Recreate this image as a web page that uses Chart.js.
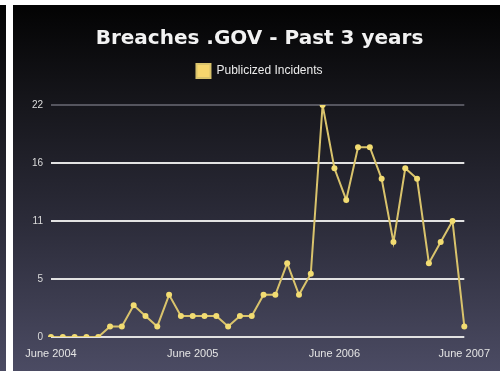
<!DOCTYPE html>
<html>
<head>
<meta charset="utf-8">
<script src="https://cdn.jsdelivr.net/npm/chart.js@4"></script>
<style>
  html, body { margin: 0; padding: 0; background: #fff; }
  body { width: 500px; height: 371px; position: relative; overflow: hidden; }
  .strip, .panel {
    position: absolute;
    top: 5px;
    bottom: 0;
    background: linear-gradient(to bottom, #030303 0%, #15151a 25%, #2c2c3a 60%, #4b4b63 100%);
  }
  .strip { left: 0; width: 6px; }
  .panel { left: 13px; right: 0; }
  #grafico { display: block; }
</style>
</head>
<body>
<div class="strip"></div>
<div class="panel">
  <canvas id="grafico" width="487" height="366"></canvas>
</div>
<script>
const ctx = document.getElementById('grafico').getContext('2d');

// Eixo X: um ponto por mês, rótulo só a cada ano
const meses = [
  'June 2004', '', '', '', '', '', '', '', '', '', '', '',
  'June 2005', '', '', '', '', '', '', '', '', '', '', '',
  'June 2006', '', '', '', '', '', '', '', '', '', '', 'June 2007'
]

// Incidentes publicados por mês
const incidentes = [
  0, 0, 0, 0, 0, 1, 1, 3, 2, 1, 4, 2,
  2, 2, 2, 1, 2, 2, 4, 4, 7, 4, 6, 22,
  16, 13, 18, 18, 15, 9, 16, 15, 7, 9, 11, 1
]

const serie = 'Publicized Incidents'
const titulo = 'Breaches .GOV - Past 3 years'

// Eixo Y: 0 a 22 em passos de 5.5 (rótulos truncados)
const yMax = 22
const yPasso = 5.5

// espaço extra entre a legenda e a área do gráfico
const margemLegenda = {
  id: 'margemLegenda',
  beforeInit(chart) {
    const fitOriginal = chart.legend.fit
    chart.legend.fit = function () {
      fitOriginal.bind(chart.legend)()
      this.height += 17
    }
  }
}

const config = {
  type: 'line',
  data: {
    labels: meses,
    datasets: [{
      label: serie,
      data: incidentes,
      borderColor: '#d9c36c',
      backgroundColor: '#f6d66e',
      borderWidth: 2,
      pointRadius: 3,
      pointBackgroundColor: '#f2dc72',
      pointBorderWidth: 0,
      tension: 0
    }]
  },
  options: {
    responsive: false,
    animation: false,
    layout: {
      padding: { left: 6, right: 0, top: 0, bottom: 0 }
    },
    plugins: {
      title: {
        display: true,
        text: titulo,
        color: '#f2f2f2',
        font: { family: 'DejaVu Sans', size: 20, weight: 'bold' },
        padding: { top: 22, bottom: 3 }
      },
      legend: {
        labels: {
          color: '#ececec',
          font: { family: 'Liberation Sans', size: 12 },
          boxWidth: 14,
          boxHeight: 14,
          padding: 10
        }
      },
      tooltip: { enabled: false }
    },
    scales: {
      x: {
        grid: { display: false, drawTicks: false },
        border: { display: false },
        ticks: {
          color: '#e4e4e4',
          font: { family: 'Liberation Sans', size: 11 },
          autoSkip: false,
          maxRotation: 0,
          padding: 10
        },
        afterFit(scale) { scale.height = 34 }
      },
      y: {
        min: 0,
        max: yMax,
        grid: {
          drawTicks: false,
          lineWidth: 2,
          color: (c) => c.tick && c.tick.value === yMax ? '#55555e' : '#e2e2e2'
        },
        border: { display: false },
        ticks: {
          stepSize: yPasso,
          color: '#dcdcdc',
          font: { family: 'Liberation Sans', size: 10 },
          padding: 8,
          callback: (v) => Math.floor(v)
        },
        afterFit(scale) { scale.width = 32 }
      },
      // eixo vazio à direita, só para reservar a margem
      margem: {
        position: 'right',
        grid: { display: false },
        border: { display: false },
        ticks: { display: false },
        afterFit(scale) { scale.width = 34 }
      }
    }
  },
  plugins: [margemLegenda]
}

const grafico = new Chart(ctx, config)
</script>
</body>
</html>
